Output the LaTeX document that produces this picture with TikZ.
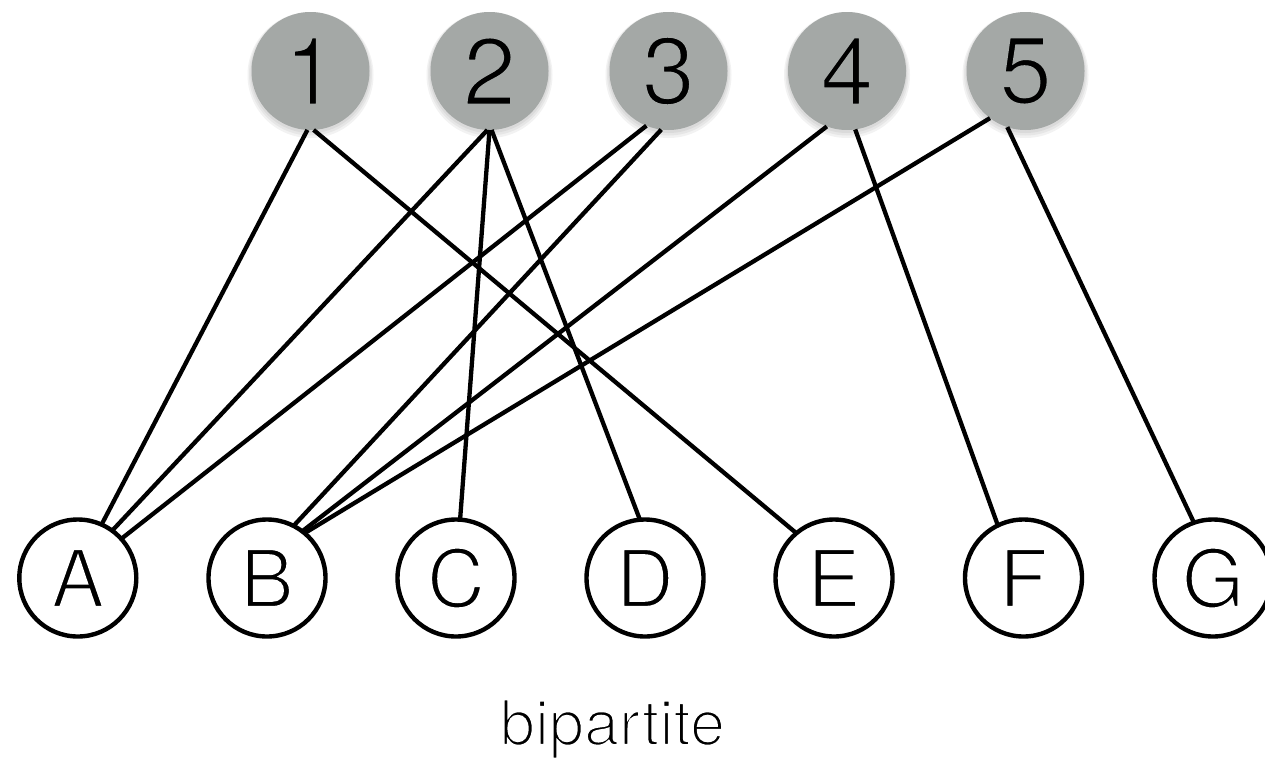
\documentclass[tikz,border=0pt]{standalone}
\usepackage{fontspec}
\setmainfont{TeX Gyre Heros}
\definecolor{topgrey}{RGB}{164,168,166}
% thin the glyphs by stroking their outlines in the background colour
\newcommand\thinonwhite[1]{\special{pdf:literal direct 2 Tr 1 1 1 RG 2.4 w}#1\special{pdf:literal direct 0 Tr 0 0 0 RG}}
\newcommand\thinongrey[1]{\raisebox{-2.5pt}{\special{pdf:literal direct 2 Tr 0.643 0.659 0.651 RG 2.2 w}#1\special{pdf:literal direct 0 Tr 0 0 0 RG}}}
\begin{document}
\begin{tikzpicture}[x=1pt,y=-1pt,
  topnode/.style={circle, fill=topgrey, minimum size=118pt, inner sep=0pt, outer sep=0pt, font=\fontsize{95}{95}\selectfont},
  botnode/.style={circle, draw=black, line width=4.4pt, fill=white, minimum size=117pt, inner sep=0pt, outer sep=0pt, font=\fontsize{80}{80}\selectfont},
  link/.style={line width=4.3pt, black},
  shadowring/.style={fill=black, opacity=0.05}]
\useasboundingbox (0,0) rectangle (1265,758);
% soft shadows under the top circles
\foreach \x in {310.5,489.5,668.5,847,1025.5}{
  \fill[shadowring] (\x,73) circle (60);
  \fill[shadowring] (\x,74) circle (61.5);
  \fill[shadowring] (\x,75) circle (63);
}
\node[topnode] (t1) at (310.5,71) {\thinongrey{1}};
\node[topnode] (t2) at (489.5,71) {\thinongrey{2}};
\node[topnode] (t3) at (668.5,71) {\thinongrey{3}};
\node[topnode] (t4) at (847,71) {\thinongrey{4}};
\node[topnode] (t5) at (1025.5,71) {\thinongrey{5}};
\node[botnode] (A) at (77.8,578) {\thinonwhite{A}};
\node[botnode] (B) at (267,578) {\thinonwhite{B}};
\node[botnode] (C) at (456,578) {\thinonwhite{C}};
\node[botnode] (D) at (645,578) {\thinonwhite{D}};
\node[botnode] (E) at (834,578) {\thinonwhite{E}};
\node[botnode] (F) at (1023.5,578) {\thinonwhite{F}};
\node[botnode] (G) at (1213,578) {\thinonwhite{G}};
\draw[link] (t1.267) -- (A.66);
\draw[link] (t1.273) -- (E.130);
\draw[link] (t2.268) -- (A.54);
\draw[link] (t2.270) -- (C.86);
\draw[link] (t2.272) -- (D.95);
\draw[link] (t3.248) -- (A.42);
\draw[link] (t3.263) -- (B.63);
\draw[link] (t4.250) -- (B.53);
\draw[link] (t4.278) -- (F.116);
\draw[link] (t5.233) -- (B.50);
\draw[link] (t5.252) -- (G.109);
\node[anchor=base, font=\fontsize{63}{63}\selectfont] (cap) at (612.5,745) {\thinonwhite{bipartite}};
\end{tikzpicture}
\end{document}
